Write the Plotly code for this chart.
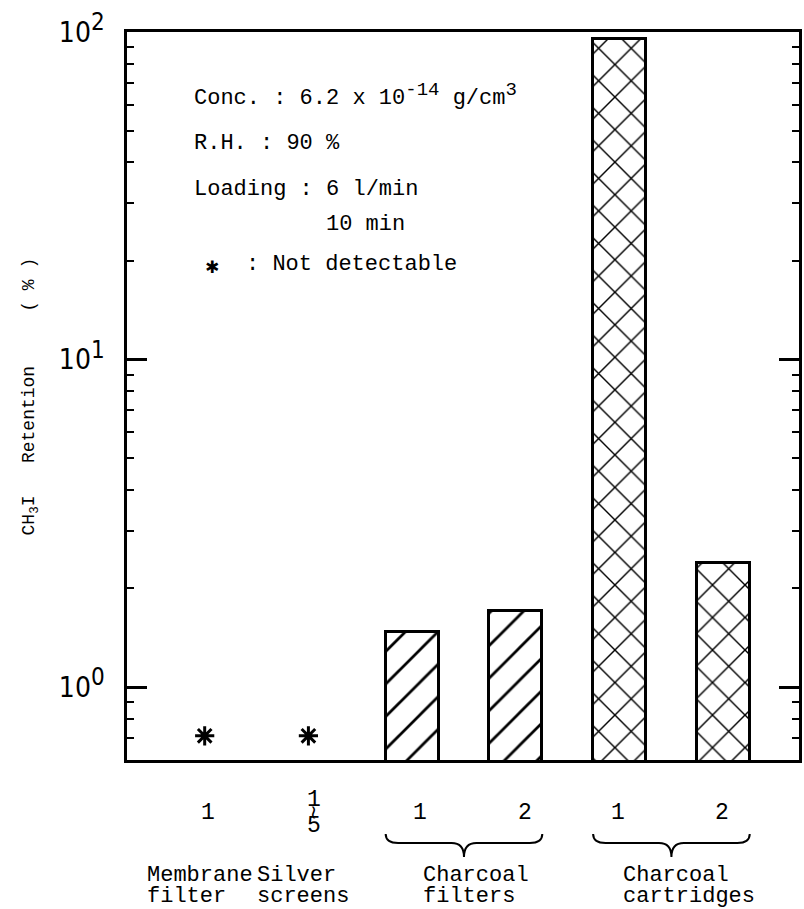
import plotly.graph_objects as go

# Samples along the x axis (one slot per tested unit)
group_names = ["Membrane filter", "Silver screens", "Charcoal filters", "Charcoal cartridges"]
group_members = [[0], [1], [2, 3], [4, 5]]
sample_ids = [["1"], ["1", "~", "5"], ["1"], ["2"], ["1"], ["2"]]
# CH3I retention in %, None = not detectable
retention = [None, None, 1.47, 1.71, 95.0, 2.39]
hatch = ["", "", "/", "/", "x", "x"]

SUP = "<sup><span style='font-size:{s}px'>{t}</span></sup>"

conditions = [
    "Conc. : 6.2 x 10" + SUP.format(s=19, t="-14") + "\u00a0g/cm" + SUP.format(s=19, t="3"),
    "R.H. : 90 %",
    "Loading : 6 l/min",
]
loading_time = "10 min"
nd_note = ": Not detectable"

y_tickvals = [1, 10, 100]
y_ticktext = ["10" + SUP.format(s=24, t=e) for e in ["0", "1", "2"]]

ND_LEVEL = 0.71          # height at which "not detectable" marks sit
BAR_W = 0.51
X_RANGE = [-0.749, 5.73]
Y_RANGE = [-0.2226, 2.0]  # log10 units

W, H = 804, 909
ML, MR, MT, MB = 127, 2, 32, 149
PW, PH = W - ML - MR, H - MT - MB

# small horizontal nudges (px) of the hand-lettered labels
NUM_SHIFT = [3, 6, 8, 9, -2, -1]
GROUP_SHIFT = [-5, -5, 12, 18]

MONO = "Liberation Mono, Courier New, monospace"
TICKFONT = "Liberation Sans Narrow, DejaVu Sans Condensed, Arial Narrow, sans-serif"
TXT = 22


def py(px):
    """pixel row -> paper y"""
    return (MT + PH - px) / PH


def pxx(px):
    """pixel column -> paper x"""
    return (px - ML) / PW


xs = list(range(len(retention)))

fig = go.Figure()

fig.add_bar(
    x=xs,
    y=retention,
    width=BAR_W,
    marker=dict(
        color="white",
        line=dict(color="black", width=3),
        pattern=dict(shape=hatch, size=23, solidity=0.12, fgopacity=1,
                     fgcolor="black", bgcolor="white", fillmode="overlay"),
    ),
    showlegend=False,
    hoverinfo="skip",
)

nd_x = [x for x, v in zip(xs, retention) if v is None]
fig.add_scatter(
    x=nd_x,
    y=[ND_LEVEL] * len(nd_x),
    mode="markers",
    marker=dict(symbol="asterisk-open", size=16, color="black",
                line=dict(color="black", width=3)),
    showlegend=False,
    hoverinfo="skip",
)

ann = []
# Test conditions block
for txt, yy in zip(conditions, [95, 143, 189]):
    ann.append(dict(text=txt, x=pxx(192), y=py(yy), xref="paper", yref="paper",
                    xanchor="left", yanchor="middle", showarrow=False,
                    font=dict(family=MONO, size=TXT, color="black")))
ann.append(dict(text=loading_time, x=pxx(325), y=py(225), xref="paper", yref="paper",
                xanchor="left", yanchor="middle", showarrow=False,
                font=dict(family=MONO, size=TXT, color="black")))
ann.append(dict(text="\u2731", x=pxx(212), y=py(267), xref="paper", yref="paper",
                xanchor="center", yanchor="middle", showarrow=False,
                font=dict(family="DejaVu Sans", size=17, color="black")))
ann.append(dict(text=nd_note, x=pxx(245), y=py(264), xref="paper", yref="paper",
                xanchor="left", yanchor="middle", showarrow=False,
                font=dict(family=MONO, size=TXT, color="black")))

# Y axis title
ann.append(dict(text="CH<sub>3</sub>I\u00a0\u00a0\u00a0Retention\u00a0\u00a0\u00a0\u00a0\u00a0( % )",
                x=pxx(30), y=py(396), xref="paper", yref="paper",
                xanchor="center", yanchor="middle", textangle=-90, showarrow=False,
                font=dict(family=MONO, size=18, color="black")))

# Sample numbers under each bar
for x, rows, dx in zip(xs, sample_ids, NUM_SHIFT):
    n = len(rows)
    for k, r in enumerate(rows):
        yy = 813 + (k - (n - 1) / 2) * 13
        tilde = r == "~"
        ann.append(dict(text=r, x=x, y=py(yy), xref="x", yref="paper", xshift=dx,
                        xanchor="center", yanchor="middle", showarrow=False,
                        textangle=90 if tilde else 0,
                        font=dict(family="DejaVu Sans" if tilde else MONO,
                                  size=19 if tilde else 23, color="black")))

# Group names (two lines, left aligned via padding)
shapes = []
for name, members, dx in zip(group_names, group_members, GROUP_SHIFT):
    words = name.split(" ")
    wmax = max(len(w) for w in words)
    cx = sum(members) / len(members)
    for k, w in enumerate(words):
        ann.append(dict(text=w + "\u00a0" * (wmax - len(w)), x=cx, y=py(876 + 20 * k),
                        xref="x", yref="paper", xanchor="center", yanchor="middle",
                        xshift=dx, showarrow=False,
                        font=dict(family=MONO, size=TXT, color="black")))
    if len(members) > 1:
        x0 = members[0] - BAR_W / 2
        x1 = members[-1] + BAR_W / 2
        xm = (x0 + x1) / 2
        yh, yl, yt = py(834), py(843), py(857)
        d = 0.12
        path = (f"M {x0},{yh} Q {x0},{yl} {x0 + d},{yl} "
                f"L {xm - d},{yl} Q {xm},{yl} {xm},{yt} "
                f"Q {xm},{yl} {xm + d},{yl} "
                f"L {x1 - d},{yl} Q {x1},{yl} {x1},{yh}")
        shapes.append(dict(type="path", path=path, xref="x", yref="paper",
                           line=dict(color="black", width=2)))

fig.update_layout(
    width=W, height=H,
    margin=dict(l=ML, r=MR, t=MT, b=MB, pad=0),
    paper_bgcolor="white", plot_bgcolor="white",
    bargap=0,
    annotations=ann,
    shapes=shapes,
    xaxis=dict(range=X_RANGE, showline=True, linecolor="black", linewidth=2.5,
               mirror=True, showgrid=False, zeroline=False, ticks="",
               showticklabels=False),
    yaxis=dict(type="log", range=Y_RANGE, showline=True, linecolor="black",
               linewidth=2.5, mirror="allticks", showgrid=False, zeroline=False,
               tickvals=y_tickvals, ticktext=y_ticktext,
               ticks="inside", ticklen=20, tickwidth=2.5, tickcolor="black",
               ticklabelstandoff=14,
               tickfont=dict(family=TICKFONT, size=28, color="black"),
               minor=dict(ticks="inside", ticklen=7, tickwidth=2,
                          tickcolor="black", dtick="D1", showgrid=False)),
)

fig.write_html("out.html")
